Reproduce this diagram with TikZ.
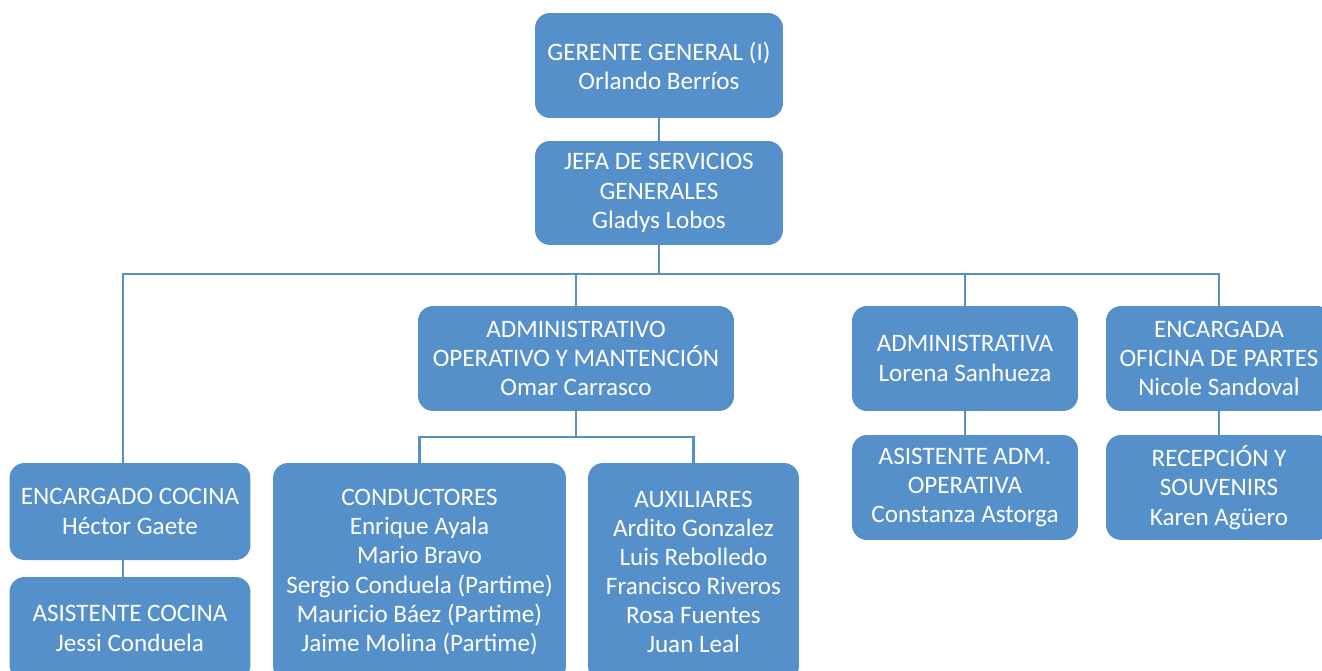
\documentclass[tikz,border=0pt]{standalone}
\usepackage{fontspec}
\setmainfont{Carlito}
\usetikzlibrary{calc}
\definecolor{boxblue}{RGB}{85,144,203}
\tikzset{
    cargo/.style={rectangle, rounded corners=0.3cm, fill=boxblue, draw=none,
        text=white, align=center, inner sep=0pt,
        font=\fontsize{14.3}{16.6}\selectfont},
    linea/.style={draw=boxblue, line width=1.6pt},
}

\begin{document}
\begin{tikzpicture}[x=0.02cm, y=-0.02cm]
            \useasboundingbox (0,0) rectangle (1322,670);

            \node[cargo, minimum width=4.96cm, minimum height=2.10cm] (GG) at (659,65.5)
                {GERENTE GENERAL (I)\\Orlando Berríos};
            \node[cargo, minimum width=4.96cm, minimum height=2.08cm] (JS) at (659,193)
                {JEFA DE SERVICIOS\\GENERALES\\Gladys Lobos};

            \node[cargo, minimum width=6.32cm, minimum height=2.10cm] (AO) at (576,358.5)
                {ADMINISTRATIVO\\OPERATIVO Y MANTENCIÓN\\Omar Carrasco};
            \node[cargo, minimum width=4.52cm, minimum height=2.10cm] (AD) at (965,358.5)
                {ADMINISTRATIVA\\Lorena Sanhueza};
            \node[cargo, minimum width=4.52cm, minimum height=2.10cm] (EO) at (1219,358.5)
                {ENCARGADA\\OFICINA DE PARTES\\Nicole Sandoval};

            \node[cargo, minimum width=4.82cm, minimum height=1.94cm] (EC) at (130,511.5)
                {ENCARGADO COCINA\\Héctor Gaete};
            \node[cargo, minimum width=4.82cm, minimum height=2.06cm] (AC) at (130,628.5)
                {ASISTENTE COCINA\\Jessi Conduela};
            \node[cargo, minimum width=5.86cm, minimum height=4.36cm] (CD) at (419.5,572)
                {CONDUCTORES\\Enrique Ayala\\Mario Bravo\\Sergio Conduela (Partime)\\Mauricio Báez (Partime)\\Jaime Molina (Partime)};
            \node[cargo, minimum width=4.22cm, minimum height=4.36cm] (AX) at (693.5,572)
                {AUXILIARES\\Ardito Gonzalez\\Luis Rebolledo\\Francisco Riveros\\Rosa Fuentes\\Juan Leal};
            \node[cargo, minimum width=4.52cm, minimum height=2.10cm] (AA) at (965,487.5)
                {ASISTENTE ADM.\\OPERATIVA\\Constanza Astorga};
            \node[cargo, minimum width=4.52cm, minimum height=2.10cm] (RS) at (1219,487.5)
                {RECEPCIÓN Y\\SOUVENIRS\\Karen Agüero};

            \coordinate (bus) at (659,274);
            \coordinate (sub) at (576,437);

            \draw[linea] (GG.south) -- (JS.north);
            \draw[linea] (JS.south) -- (bus);
            \draw[linea] (bus) -| ([xshift=-0.14cm]EC.north);
            \draw[linea] (bus) -| (AO.north);
            \draw[linea] (bus) -| (AD.north);
            \draw[linea] (bus) -| (EO.north);
            \draw[linea] ([xshift=-0.14cm]EC.south) -- ([xshift=-0.14cm]AC.north);
            \draw[linea] (AO.south) -- (sub);
            \draw[linea] (sub) -| (CD.north);
            \draw[linea] (sub) -| (AX.north);
            \draw[linea] (AD.south) -- (AA.north);
            \draw[linea] (EO.south) -- (RS.north);
        \end{tikzpicture}
\end{document}
